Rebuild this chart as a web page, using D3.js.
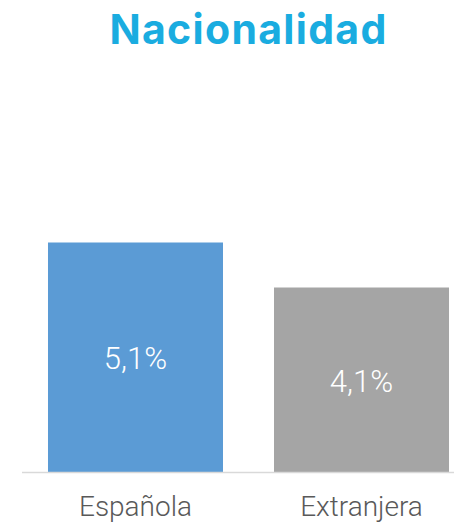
<!DOCTYPE html>
<html><head><meta charset="utf-8">
<script src="https://cdn.jsdelivr.net/npm/d3@7"></script>
<style>html,body{margin:0;padding:0;background:#fff;}svg{display:block;}</style>
</head><body>
<svg id="c" width="454" height="523"></svg>
<script>
const title = "Nacionalidad";
const categories = ["Española", "Extranjera"];
const values = [5.1, 4.1];
const valueLabels = ["5,1%", "4,1%"];
const colors = ["#5b9bd5", "#a5a5a5"];

const svg = d3.select("#c");
const x = d3.scaleBand().domain(categories).range([22, 475]).paddingInner(0.2257).paddingOuter(0.115);
const y = d3.scaleLinear().domain([0, 6]).range([472, 202]);

svg.append("text").attr("x", (22+475)/2).attr("y", 44).attr("text-anchor", "middle")
  .attr("font-family", "Inter").attr("font-weight", 700).attr("font-size", 41)
  .attr("letter-spacing", 1.3)
  .attr("fill", "#1aace0").text(title);

svg.selectAll("rect.bar").data(values).join("rect").attr("class","bar")
  .attr("x", (d,i) => x(categories[i])).attr("width", x.bandwidth())
  .attr("y", d => y(d)).attr("height", d => y(0) - y(d))
  .attr("fill", (d,i) => colors[i]);

svg.append("line").attr("x1", 22).attr("x2", 454).attr("y1", y(0)+0.5).attr("y2", y(0)+0.5)
  .attr("stroke", "#d9d9d9").attr("stroke-width", 1.5);

svg.selectAll("text.val").data(values).join("text").attr("class","val")
  .attr("x", (d,i) => x(categories[i]) + x.bandwidth()/2)
  .attr("y", d => (y(d) + y(0))/2 + 12)
  .attr("text-anchor", "middle").attr("font-family", "Roboto").attr("font-weight", 300)
  .attr("font-size", 31).attr("fill", "#fff").text((d,i) => valueLabels[i]);

svg.selectAll("text.cat").data(categories).join("text").attr("class","cat")
  .attr("x", d => x(d) + x.bandwidth()/2).attr("y", 516)
  .attr("text-anchor", "middle").attr("font-family", "Roboto").attr("font-weight", 300)
  .attr("font-size", 28).attr("fill", "#595959").text(d => d);
</script>
</body></html>
